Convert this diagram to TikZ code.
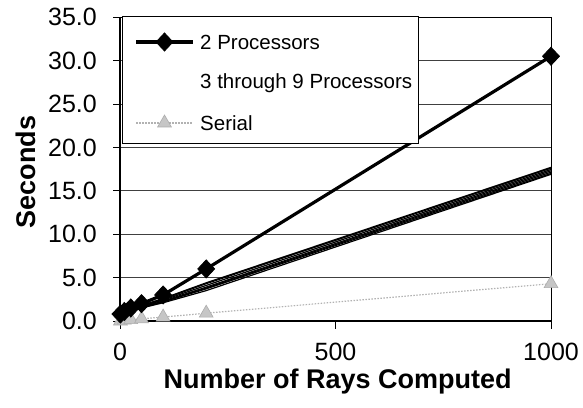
\documentclass[tikz,border=0pt]{standalone}
\usepackage{fontspec}
\setmainfont{Liberation Sans}
\usetikzlibrary{plotmarks}

\begin{document}
\begin{tikzpicture}[x=1pt,y=1pt,
    ticklabel/.style={font=\fontsize{25}{29}\selectfont, inner sep=0pt},
    axistitle/.style={font=\fontsize{27}{32}\selectfont\bfseries, inner sep=0pt},
    legendtext/.style={font=\fontsize{20.5}{24}\selectfont, anchor=west, inner sep=0pt},
    gridline/.style={black!75, line width=0.8pt},
    twoproc/.style={black, line width=3.2pt, mark=diamond*, mark size=9pt,
        mark options={solid, fill=black, line width=0.8pt, xscale=1.25}},
    manyproc/.style={black, line width=1.2pt},
    serialline/.style={gray!60, line width=1.2pt, dash pattern=on 1.5pt off 1.5pt,
        mark=triangle*, mark size=8pt,
        mark options={solid, fill=gray!45, draw=gray!65, line width=0.6pt}}]
    \useasboundingbox (0,0) rectangle (583,407);

    \begin{scope}[shift={(120,86)}, x=0.431pt, y=8.68pt]
        \coordinate (Origin)   at (0,0);
        \coordinate (XAxisMax) at (1000,0);
        \coordinate (YAxisMax) at (0,35);
        \coordinate (Corner)   at (1000,35);

        \foreach \y in {5,10,...,30}{% horizontal grid
            \draw [gridline] (0,\y) -- (1000,\y);
        }
        \draw [black, line width=0.9pt] (Origin) rectangle (Corner);% plot frame
        \draw [black, line width=1.2pt] (Origin) -- (YAxisMax);% y axis
        \draw [black, line width=1.2pt] (Origin) -- (XAxisMax);% x axis

        \foreach \y in {0,5,...,35}{% ticks and labels on the y axis
            \draw [black, line width=0.8pt] (0,\y) -- ++(-7pt,0);
            \node [ticklabel, anchor=east, xshift=-23pt] (ylab\y) at (0,\y) {\y.0};
        }
        \foreach \x in {0,500,1000}{% ticks and labels on the x axis
            \draw [black, line width=0.8pt] (\x,0) -- ++(0,-8pt);
            \node [ticklabel, yshift=-31pt] (xlab\x) at (\x,0) {\x};
        }
        \node [axistitle, anchor=base, yshift=-67pt] (xtitle) at (505,0) {Number of Rays Computed};

        % serial run
        \draw [serialline] plot coordinates {(1,0.0) (10,0.1) (25,0.15) (50,0.25) (100,0.45) (200,0.9) (1000,4.3)};

        % 3 through 9 processors
        \foreach \a/\b/\c/\d/\e/\f/\g in {0.7/0.9/1.1/1.5/2.1/3.5/16.9, 0.7/0.9/1.2/1.5/2.2/3.7/17.0,
            0.8/0.9/1.2/1.6/2.2/3.8/17.15, 0.8/1.0/1.2/1.6/2.3/3.9/17.3, 0.8/1.0/1.3/1.7/2.4/4.1/17.45,
            0.9/1.0/1.3/1.7/2.5/4.3/17.6, 0.9/1.1/1.4/1.8/2.6/4.4/17.7}{%
            \draw [manyproc] plot coordinates {(1,\a) (10,\b) (25,\c) (50,\d) (100,\e) (200,\f) (1000,\g)};
        }

        % 2 processors
        \draw [twoproc] plot coordinates {(1,0.8) (10,1.1) (25,1.5) (50,2.0) (100,3.0) (200,6.0) (1000,30.5)};
    \end{scope}

    \node [axistitle, rotate=90] (ytitle) at (26,235) {Seconds};

    % legend
    \node [draw=black, fill=white, line width=0.9pt, anchor=north west,
        minimum width=296pt, minimum height=127pt, inner sep=0pt] (legend) at (122,391) {};
    \draw [twoproc, mark indices={2}] plot coordinates {(136,365) (164.5,365) (193,365)};
    \node [legendtext] (leg2) at (200,365) {2 Processors};
    \node [legendtext] (leg39) at (200,324) {3 through 9 Processors};
    \draw [serialline, mark indices={2}] plot coordinates {(136,284) (164.5,284) (193,284)};
    \node [legendtext] (legser) at (200,284) {Serial};
\end{tikzpicture}
\end{document}
